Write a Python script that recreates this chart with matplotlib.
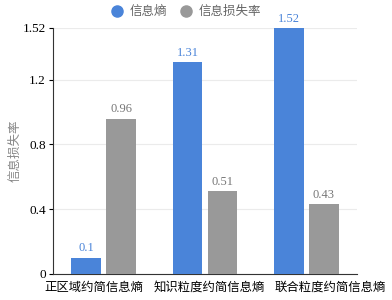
import matplotlib.pyplot as plt
import matplotlib.transforms as mtransforms
import numpy as np

categories = ["正区域约简信息熵", "知识粒度约简信息熵", "联合粒度约简信息熵"]
entropy = [0.1, 1.31, 1.52]
loss_rate = [0.96, 0.51, 0.43]
yticks = [0, 0.4, 0.8, 1.2, 1.52]
series_names = ["信息熵", "信息损失率"]

BLUE = "#4a84d9"
GRAY = "#999999"
CJK = ["Noto Sans CJK SC", "DejaVu Sans"]
SERIF = ["Liberation Serif", "DejaVu Serif"]

fig = plt.figure(figsize=(3.92, 3.0), dpi=100)
ax = fig.add_axes([0.135, 0.087, 0.776, 0.82])

x = np.arange(len(categories))
w = 0.29
off = 0.173
ax.bar(x - off, entropy, w, color=BLUE, label=series_names[0], zorder=3)
ax.bar(x + off, loss_rate, w, color=GRAY, label=series_names[1], zorder=3)

for xi, v in zip(x - off, entropy):
    ax.text(xi, v + 0.02, f"{v:g}", ha="center", va="bottom", color=BLUE,
            fontsize=9, family=SERIF)
for xi, v in zip(x + off, loss_rate):
    ax.text(xi, v + 0.02, f"{v:g}", ha="center", va="bottom", color="#777777",
            fontsize=9, family=SERIF)

ax.set_xlim(-0.5, 2.5)
ax.set_ylim(0, 1.52)
ax.set_yticks(yticks)
ax.set_yticklabels([f"{t:g}" for t in yticks], family=SERIF, fontsize=9.5)
ax.set_xticks(x)
ax.set_xticklabels(categories, family=CJK, fontsize=8.9)
ax.tick_params(axis="x", length=0, pad=5)
ax.tick_params(axis="y", length=3, width=0.8, pad=2)
ax.set_ylabel("信息损失率", family=CJK, fontsize=9, color="#888888", labelpad=1)

# labels in the original are spread a bit wider than the bar groups
shifts_px = [-10, 4, 24]
for lab, dx in zip(ax.get_xticklabels(), shifts_px):
    lab.set_transform(lab.get_transform() +
                      mtransforms.ScaledTranslation(dx / 100, 0, fig.dpi_scale_trans))

ax.grid(axis="y", color="#ebebeb", linewidth=0.8, zorder=0)
ax.spines["top"].set_visible(False)
ax.spines["right"].set_visible(False)
ax.spines["left"].set_color("#333333")
ax.spines["bottom"].set_color("#333333")
ax.spines["left"].set_linewidth(0.8)
ax.spines["bottom"].set_linewidth(0.8)

handles = [plt.Line2D([], [], marker="o", linestyle="", color=c, markersize=8)
           for c in (BLUE, GRAY)]
fig.legend(handles, series_names, loc="upper center", bbox_to_anchor=(0.466, 1.02),
           ncol=2, frameon=False, prop={"family": CJK, "size": 9},
           handletextpad=0.0, columnspacing=0.5, labelcolor="#666666")

fig.savefig("out.png", dpi=100)
